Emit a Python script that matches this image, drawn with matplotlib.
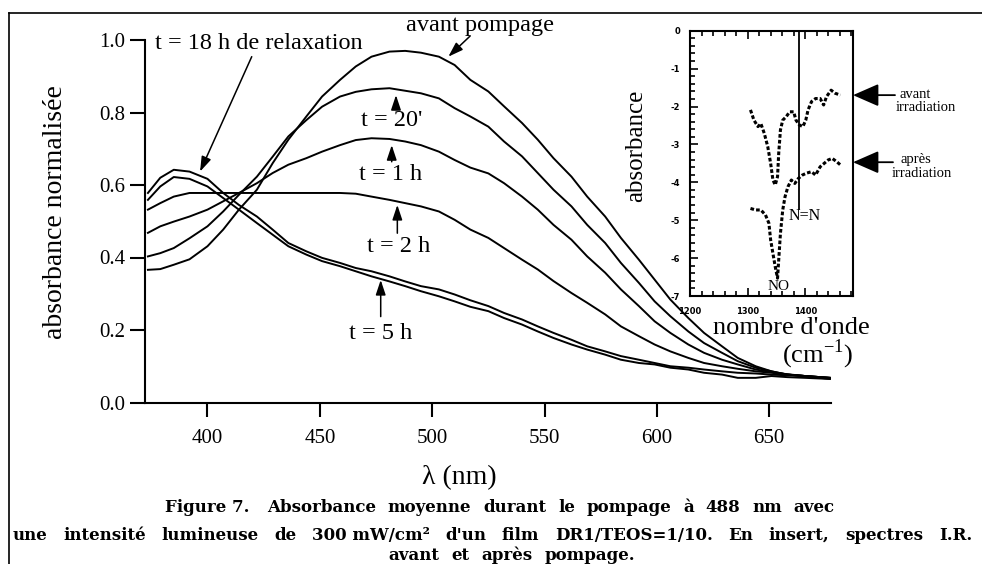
import matplotlib
matplotlib.use('Agg')
import matplotlib.pyplot as plt
from matplotlib.lines import Line2D
from matplotlib.ticker import MultipleLocator

plt.rcParams['font.family'] = ['Liberation Serif', 'DejaVu Serif']
plt.rcParams['mathtext.fontset'] = 'custom'
plt.rcParams['mathtext.rm'] = 'Liberation Serif'
plt.rcParams['axes.unicode_minus'] = False

# --- main spectra (lambda in nm, normalised absorbance) ---
wl = [373.5, 379, 385, 392, 400, 407, 414, 422, 429, 436, 444, 451, 459, 466,
      473, 481, 488, 495, 503, 510, 517, 525, 532, 540, 547, 554, 562, 569,
      577, 584, 592, 599, 606, 614, 621, 629, 636, 644, 651, 658, 666, 677]

avant = [0.366, 0.368, 0.380, 0.395, 0.431, 0.477, 0.532, 0.587, 0.660, 0.725,
         0.789, 0.844, 0.890, 0.927, 0.954, 0.968, 0.970, 0.965, 0.954, 0.931,
         0.890, 0.858, 0.817, 0.771, 0.725, 0.674, 0.623, 0.568, 0.513, 0.454,
         0.394, 0.339, 0.284, 0.233, 0.192, 0.155, 0.123, 0.100, 0.086, 0.077,
         0.073, 0.068]
t20 = [0.403, 0.412, 0.426, 0.453, 0.486, 0.527, 0.573, 0.623, 0.678, 0.734,
       0.779, 0.816, 0.844, 0.857, 0.864, 0.867, 0.860, 0.853, 0.839, 0.812,
       0.789, 0.761, 0.720, 0.679, 0.633, 0.587, 0.541, 0.490, 0.440, 0.385,
       0.330, 0.279, 0.238, 0.196, 0.164, 0.137, 0.114, 0.096, 0.086, 0.077,
       0.073, 0.068]
t1h = [0.468, 0.486, 0.499, 0.513, 0.532, 0.555, 0.578, 0.605, 0.633, 0.656,
       0.674, 0.692, 0.710, 0.724, 0.729, 0.727, 0.720, 0.710, 0.692, 0.669,
       0.648, 0.632, 0.605, 0.568, 0.532, 0.490, 0.449, 0.403, 0.358, 0.312,
       0.266, 0.224, 0.192, 0.160, 0.137, 0.118, 0.105, 0.091, 0.084, 0.078,
       0.073, 0.068]
t2h = [0.532, 0.550, 0.568, 0.578, 0.578, 0.578, 0.578, 0.578, 0.578, 0.578,
       0.578, 0.578, 0.578, 0.576, 0.568, 0.559, 0.550, 0.541, 0.527, 0.504,
       0.477, 0.454, 0.426, 0.394, 0.367, 0.335, 0.302, 0.275, 0.243, 0.210,
       0.183, 0.160, 0.141, 0.123, 0.109, 0.100, 0.093, 0.086, 0.082, 0.077,
       0.073, 0.068]
t5h = [0.559, 0.596, 0.622, 0.617, 0.596, 0.564, 0.532, 0.495, 0.463, 0.431,
       0.408, 0.390, 0.376, 0.362, 0.348, 0.334, 0.321, 0.307, 0.293, 0.279,
       0.264, 0.252, 0.233, 0.215, 0.196, 0.178, 0.160, 0.146, 0.132, 0.118,
       0.109, 0.105, 0.096, 0.091, 0.082, 0.077, 0.068, 0.068, 0.073, 0.070,
       0.068, 0.065]
t18h = [0.578, 0.620, 0.642, 0.637, 0.617, 0.578, 0.545, 0.513, 0.477, 0.440,
        0.417, 0.399, 0.385, 0.371, 0.362, 0.348, 0.334, 0.321, 0.312, 0.298,
        0.282, 0.266, 0.247, 0.229, 0.210, 0.192, 0.173, 0.155, 0.141, 0.128,
        0.118, 0.109, 0.100, 0.096, 0.091, 0.086, 0.082, 0.080, 0.077, 0.075,
        0.073, 0.065]

# --- inset IR spectra (cm-1, absorbance) ---
ir_avant_x = [1305, 1311, 1318, 1323, 1329, 1335, 1340, 1344, 1348, 1352, 1354,
              1357, 1361, 1367, 1373, 1380, 1384, 1390, 1396, 1401, 1405, 1411,
              1418, 1426, 1432, 1437, 1445, 1452, 1461]
ir_avant_y = [-2.09, -2.36, -2.53, -2.45, -2.71, -3.06, -3.50, -3.94, -4.07, -3.85,
              -3.24, -2.62, -2.36, -2.27, -2.14, -2.14, -2.36, -2.49, -2.53, -2.36,
              -2.09, -1.87, -1.79, -1.79, -1.96, -1.74, -1.57, -1.65, -1.70]
ir_apres_x = [1305, 1314, 1323, 1331, 1337, 1340, 1344, 1348, 1352, 1354, 1357,
              1361, 1365, 1370, 1376, 1382, 1388, 1395, 1402, 1411, 1418, 1426,
              1433, 1440, 1447, 1455, 1461]
ir_apres_y = [-4.69, -4.73, -4.73, -4.86, -5.08, -5.52, -5.88, -6.23, -6.53, -6.05,
              -5.35, -4.73, -4.38, -4.12, -3.94, -4.03, -3.90, -3.81, -3.76, -3.72,
              -3.81, -3.59, -3.50, -3.41, -3.37, -3.46, -3.54]
nn_band = 1390

W, H = 982, 564
fig = plt.figure(figsize=(W / 100, H / 100), dpi=100)


def fx(px):
    return px / W


def fy(py):
    return 1 - py / H


# page frame (left and top rules)
fig.add_artist(Line2D([fx(9), fx(9)], [0, fy(13)], transform=fig.transFigure,
                      color='black', lw=1.2))
fig.add_artist(Line2D([fx(9), 1], [fy(13), fy(13)], transform=fig.transFigure,
                      color='black', lw=1.2))

# ---------------- main plot ----------------
ax = fig.add_axes([fx(145), fy(402.5), (831 - 145) / W, (402.5 - 40) / H])
for y in (avant, t20, t1h, t2h, t5h, t18h):
    ax.plot(wl, y, color='black', lw=1.4)

ax.set_xlim(372.2, 677.5)
ax.set_ylim(0, 1.0)
ax.set_xticks([400, 450, 500, 550, 600, 650])
ax.set_yticks([0.0, 0.2, 0.4, 0.6, 0.8, 1.0])
ax.set_yticklabels(['0.0', '0.2', '0.4', '0.6', '0.8', '1.0'])
for s in ('top', 'right'):
    ax.spines[s].set_visible(False)
for s in ('left', 'bottom'):
    ax.spines[s].set_linewidth(1.5)
ax.tick_params(axis='y', direction='out', length=11, width=1.5, pad=3, labelsize=15)
ax.tick_params(axis='x', direction='out', length=10, width=1.5, pad=9, labelsize=15)
ax.set_ylabel('absorbance normalisée', fontsize=20)
ax.yaxis.set_label_coords(-0.112, 0.526)
ax.set_xlabel('λ (nm)', fontsize=20)
ax.xaxis.label.set_va('center')
ax.xaxis.set_label_coords(0.458, -0.206)

arrow_small = dict(arrowstyle='-|>,head_length=0.6,head_width=0.2', color='black',
                   lw=1.1, mutation_scale=15, shrinkA=0, shrinkB=0)

ax.text(521.3, 1.041, 'avant pompage', fontsize=17.5, ha='center', va='center')
ax.annotate('', xy=(507.2, 0.954), xytext=(516.9, 1.011), arrowprops=arrow_small)

ax.text(376.6, 0.991, 't = 18 h de relaxation', fontsize=17.5, ha='left', va='center')
ax.annotate('', xy=(396.7, 0.637), xytext=(419.7, 0.954), arrowprops=arrow_small)

labels = [("t = 20'", 482.2, 0.779, 483.9, 0.812, 0.848),
          ('t = 1 h', 481.3, 0.628, 482.0, 0.664, 0.710),
          ('t = 2 h', 484.9, 0.430, 484.5, 0.467, 0.545),
          ('t = 5 h', 477.1, 0.191, 477.1, 0.237, 0.338)]
for txt, tx, ty, ax_x, y0, y1 in labels:
    ax.text(tx, ty, txt, fontsize=17.5, ha='center', va='center')
    ax.annotate('', xy=(ax_x, y1), xytext=(ax_x, y0), arrowprops=arrow_small)

# ---------------- inset ----------------
axi = fig.add_axes([fx(690), fy(296), 163 / W, (296 - 30.7) / H])
axi.plot(ir_avant_x, ir_avant_y, color='black', lw=2.2, ls=(0, (1.2, 0.7)))
axi.plot(ir_apres_x, ir_apres_y, color='black', lw=2.2, ls=(0, (1.2, 0.7)))
axi.plot([nn_band, nn_band], [0, -4.7], color='black', lw=1.3)
axi.set_xlim(1200, 1483)
axi.set_ylim(-7, 0)
axi.set_xticks([1200, 1300, 1400])
axi.set_yticks(list(range(-7, 1)))
axi.set_yticklabels([str(v) for v in range(-7, 1)])
axi.xaxis.set_minor_locator(MultipleLocator(20))
axi.yaxis.set_minor_locator(MultipleLocator(0.2))
for s in axi.spines.values():
    s.set_linewidth(1.5)
axi.tick_params(which='both', direction='in', top=True, right=False, width=1.2)
axi.tick_params(which='major', length=6)
axi.tick_params(which='minor', length=3.5)
axi.tick_params(axis='y', pad=7)
axi.tick_params(axis='x', pad=8)
for lab in axi.get_xticklabels() + axi.get_yticklabels():
    lab.set_family('DejaVu Sans')
    lab.set_fontweight('bold')
    lab.set_fontsize(6)
axi.set_ylabel('absorbance', fontsize=18)
axi.yaxis.set_label_coords(-0.264, 0.565)
axi.text(1400, -4.9, 'N=N', fontsize=11.5, ha='center', va='center')
axi.text(1353, -6.75, 'NO', fontsize=11, ha='center', va='center')
axi.text(0.62, -0.12, "nombre d'onde", transform=axi.transAxes, fontsize=19,
         ha='center', va='center')
axi.text(0.785, -0.22, r'(cm$^{\mathrm{-1}}$)', transform=axi.transAxes,
         fontsize=19, ha='center', va='center')

arrow_big = dict(arrowstyle='-|>,head_length=0.8,head_width=0.35', color='black',
                 lw=1.3, mutation_scale=20, shrinkA=0, shrinkB=0)
axi.annotate('', xy=(1.0, -1.70), xycoords=('axes fraction', 'data'),
             xytext=(42, 0), textcoords='offset pixels', arrowprops=arrow_big)
axi.annotate('', xy=(1.0, -3.47), xycoords=('axes fraction', 'data'),
             xytext=(40, 0), textcoords='offset pixels', arrowprops=arrow_big)
fig.text(fx(915), fy(95), 'avant', fontsize=10.5, ha='center', va='center')
fig.text(fx(926), fy(108), 'irradiation', fontsize=10.5, ha='center', va='center')
fig.text(fx(916), fy(159), 'après', fontsize=10.5, ha='center', va='center')
fig.text(fx(922), fy(173), 'irradiation', fontsize=10.5, ha='center', va='center')

# ---------------- caption ----------------
# (words, left, right) -> justified ; (words, centre, None) -> centred, fixed gap
caption = [
    (['Figure 7. ', 'Absorbance', 'moyenne', 'durant', 'le', 'pompage', 'à', '488',
      'nm', 'avec'], 165, 835, 508),
    (['une', 'intensité', 'lumineuse', 'de', '300 mW/cm²', "d'un", 'film',
      'DR1/TEOS=1/10.', 'En', 'insert,', 'spectres', 'I.R.'], 13, 972, 535),
    (['avant', 'et', 'après', 'pompage.'], 512, None, 555),
]
renderer = fig.canvas.get_renderer()
for words, a, b, py in caption:
    texts = [fig.text(0, fy(py), w, fontsize=12, fontweight='bold',
                      family='DejaVu Serif', ha='left', va='center') for w in words]
    widths = [t.get_window_extent(renderer).width for t in texts]
    if b is None:
        gap = 12
        x = a - (sum(widths) + gap * (len(words) - 1)) / 2
    else:
        gap = ((b - a) - sum(widths)) / (len(words) - 1)
        x = a
    for t, w in zip(texts, widths):
        t.set_x(fx(x))
        x += w + gap

fig.savefig('out.png', dpi=100)
